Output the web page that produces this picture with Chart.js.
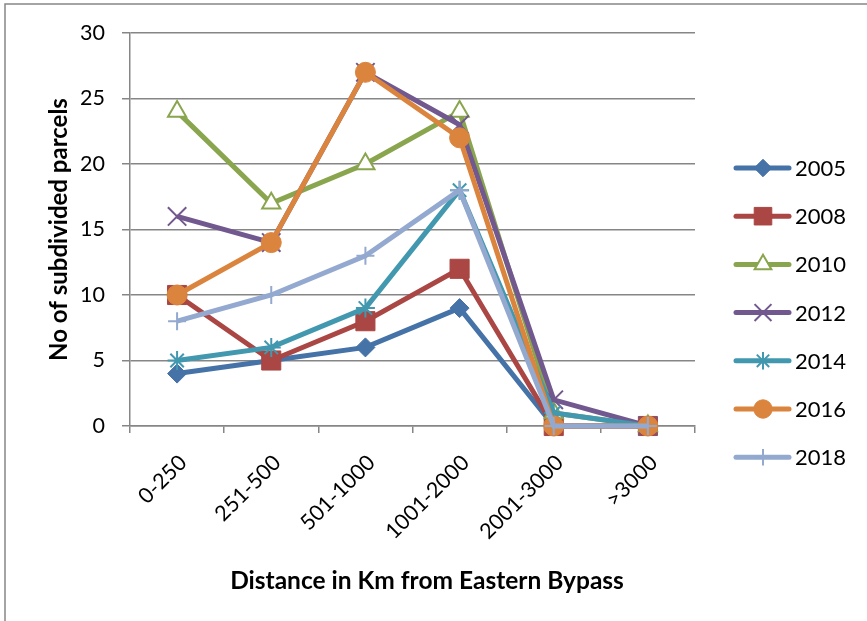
<!DOCTYPE html>
<html>
<head>
<meta charset="utf-8">
<script src="https://cdn.jsdelivr.net/npm/chart.js@4"></script>
<style>
  html, body { margin: 0; padding: 0; background: #ffffff; }
  #wrap { width: 867px; height: 621px; position: relative; }
</style>
</head>
<body>
<div id="wrap"><canvas id="c" width="867" height="621"></canvas></div>
<script>
// Distance bands from the Eastern Bypass
const categories = ['0-250', '251-500', '501-1000', '1001-2000', '2001-3000', '>3000'];

// Number of subdivided parcels per survey year
const years = ['2005', '2008', '2010', '2012', '2014', '2016', '2018'];
const parcels2005 = [4, 5, 6, 9, 0, 0];
const parcels2008 = [10, 5, 8, 12, 0, 0];
const parcels2010 = [24, 17, 20, 24, 1, 0];
const parcels2012 = [16, 14, 27, 23, 2, 0];
const parcels2014 = [5, 6, 9, 18, 1, 0];
const parcels2016 = [10, 14, 27, 22, 0, 0];
const parcels2018 = [8, 10, 13, 18, 0, 0];

const yTicks = [0, 5, 10, 15, 20, 25, 30];

const xTitle = 'Distance in Km from Eastern Bypass';
const yTitle = 'No of subdivided parcels';

const FONT = 'Lato, "Open Sans", "Liberation Sans", sans-serif';

const styles = [
  { color: '#4572A7', point: 'rectRot',  radius: 9.5, fill: '#4572A7', bw: 1 },
  { color: '#AA4643', point: 'rect',     radius: 13.5, fill: '#AA4643', bw: 1 },
  { color: '#89A54E', point: 'triangle', radius: 10.5, fill: '#ffffff', bw: 2 },
  { color: '#71588F', point: 'crossRot', radius: 13,  fill: '#71588F', bw: 2 },
  { color: '#4198AF', point: 'star',     radius: 9.5, fill: '#4198AF', bw: 2 },
  { color: '#DB843D', point: 'circle',   radius: 10,  fill: '#DB843D', bw: 1 },
  { color: '#93A9CF', point: 'cross',    radius: 9,   fill: '#93A9CF', bw: 2 }
];

const series = [parcels2005, parcels2008, parcels2010, parcels2012, parcels2014, parcels2016, parcels2018];

const datasets = series.map((values, i) => ({
  label: years[i],
  data: values,
  borderColor: styles[i].color,
  backgroundColor: styles[i].fill,
  borderWidth: 5,
  tension: 0,
  pointStyle: styles[i].point,
  pointRadius: styles[i].radius,
  pointHoverRadius: styles[i].radius,
  pointBackgroundColor: styles[i].fill,
  pointBorderColor: styles[i].color,
  pointBorderWidth: styles[i].bw,
  // later years are painted over earlier ones
  order: series.length - 1 - i,
  clip: false
}));

function drawMarker(ctx, style, x, y, r, fill, stroke, bw) {
  ctx.save();
  ctx.fillStyle = fill;
  ctx.strokeStyle = stroke;
  ctx.lineWidth = bw;
  if (Chart.helpers && Chart.helpers.drawPoint) {
    Chart.helpers.drawPoint(ctx, { pointStyle: style, rotation: 0, borderWidth: bw, radius: r }, x, y);
  }
  ctx.restore();
}

// Frame around the chart object (top and left edges fall inside the canvas)
const framePlugin = {
  id: 'frame',
  beforeDraw(chart) {
    const ctx = chart.ctx;
    ctx.save();
    ctx.fillStyle = '#ffffff';
    ctx.fillRect(0, 0, chart.width, chart.height);
    ctx.strokeStyle = '#868686';
    ctx.lineWidth = 1.5;
    ctx.beginPath();
    ctx.moveTo(5, chart.height + 5);
    ctx.lineTo(5, 4);
    ctx.lineTo(chart.width + 5, 4);
    ctx.stroke();
    ctx.restore();
  }
};

// Horizontal axis title, centred under the whole plot including the legend gap
const xTitlePlugin = {
  id: 'xTitle',
  afterDraw(chart) {
    const ctx = chart.ctx;
    ctx.save();
    ctx.fillStyle = '#000000';
    ctx.font = 'bold 24.5px ' + FONT;
    ctx.textAlign = 'center';
    ctx.textBaseline = 'middle';
    ctx.fillText(xTitle, 427, 581);
    ctx.restore();
  }
};

// Legend with a line sample and marker per year
const legendPlugin = {
  id: 'sideLegend',
  afterDraw(chart) {
    const ctx = chart.ctx;
    const x0 = 736, x1 = 789, xm = 763, xt = 795;
    const top = 168, step = 48.2;
    chart.data.datasets.forEach((ds, i) => {
      const y = top + i * step;
      const st = styles[i];
      ctx.save();
      ctx.strokeStyle = st.color;
      ctx.lineWidth = 5;
      ctx.lineCap = 'round';
      ctx.beginPath();
      ctx.moveTo(x0, y);
      ctx.lineTo(x1, y);
      ctx.stroke();
      ctx.restore();
      drawMarker(ctx, st.point, xm, y, st.radius * 0.92, st.fill, st.color, st.bw);
      ctx.save();
      ctx.fillStyle = '#000000';
      ctx.font = '22px ' + FONT;
      ctx.textAlign = 'left';
      ctx.textBaseline = 'middle';
      ctx.fillText(ds.label, xt, y + 1);
      ctx.restore();
    });
  }
};

new Chart(document.getElementById('c'), {
  type: 'line',
  data: { labels: categories, datasets },
  plugins: [framePlugin, xTitlePlugin, legendPlugin],
  options: {
    responsive: false,
    animation: false,
    devicePixelRatio: 1,
    layout: { padding: { left: 0, right: 172, top: 33, bottom: 0 } },
    plugins: {
      legend: { display: false },
      tooltip: { enabled: false },
      title: { display: false }
    },
    scales: {
      x: {
        type: 'category',
        offset: true,
        grid: {
          offset: true,
          drawOnChartArea: false,
          drawTicks: true,
          tickLength: 7,
          color: '#868686',
          lineWidth: 1.5
        },
        border: { display: true, color: '#868686', width: 1.5 },
        ticks: {
          minRotation: 45,
          maxRotation: 45,
          autoSkip: false,
          padding: 17,
          labelOffset: 6,
          color: '#000000',
          font: { family: FONT, size: 21.5 }
        },
        title: { display: false },
        afterFit(scale) { scale.height = 195; }
      },
      y: {
        min: 0,
        max: 30,
        afterBuildTicks(scale) { scale.ticks = yTicks.map(v => ({ value: v })); },
        grid: {
          color: '#868686',
          lineWidth: 1.5,
          tickLength: 8,
          drawTicks: true
        },
        border: { display: true, color: '#868686', width: 1.5 },
        ticks: {
          padding: 17,
          color: '#000000',
          font: { family: FONT, size: 21.5 }
        },
        title: {
          display: true,
          text: yTitle,
          color: '#000000',
          font: { family: FONT, size: 24, weight: 'bold' },
          padding: { top: 45, bottom: 0 }
        },
        afterFit(scale) { scale.width = 130; }
      }
    }
  }
});
</script>
</body>
</html>
